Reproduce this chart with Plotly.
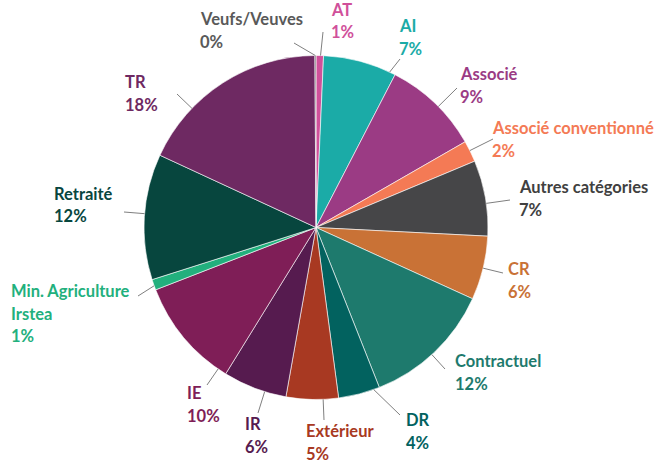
import math
import plotly.graph_objects as go

# slice data, clockwise from 12 o'clock
categories = [
    "AT", "AI", "Associé", "Associé conventionné", "Autres catégories",
    "CR", "Contractuel", "DR", "Extérieur", "IR", "IE",
    "Min. Agriculture<br>Irstea", "Retraité", "TR", "Veufs/Veuves",
]
shares = [0.7, 6.9, 9.1, 2.0, 7.1, 6.0, 12.2, 3.9, 4.9, 6.0, 10.3, 1.0, 11.8, 18.0, 0.1]

slice_colors = [
    "#D0509A", "#1BABA7", "#9B3B84", "#F47A55", "#464648",
    "#C97236", "#1E7A6D", "#02625F", "#A83922", "#561B4F", "#7F1E57",
    "#22B07D", "#07463E", "#6E2962", "#595959",
]
text_colors = [
    "#D0509A", "#1BABA7", "#9B3B84", "#F47A55", "#404040",
    "#C97236", "#1E7A6D", "#02625F", "#A83922", "#561B4F", "#7F1E57",
    "#22B07D", "#07463E", "#6E2962", "#595959",
]

# label placement (pixels): text left, first-line cap top, leader line end
label_pos = [
    (332, 4, 323, 32), (400, 20, 400, 59), (461, 68, 457, 88),
    (493, 122, 493, 139), (520, 181, 510, 200), (509, 263, 503, 273),
    (456, 355, 445, 369), (407, 414, 400, 415), (307, 425, 324, 420),
    (246, 418, 258, 413), (188, 387, 207, 385), (12, 285, 138, 296),
    (55, 188, 124, 212), (126, 76, 177, 94), (201, 13, 294, 43),
]

W, H = 662, 464
CX, CY, R = 316, 227.5, 172
LINE_PITCH = 22.5


def px(x, y):
    return x / W, 1 - y / H


fig = go.Figure(
    go.Pie(
        labels=[c.replace("<br>", " ") for c in categories],
        values=shares,
        sort=False,
        direction="clockwise",
        rotation=0,
        textinfo="none",
        hoverinfo="label+percent",
        marker=dict(colors=slice_colors, line=dict(color="white", width=0.6)),
        domain=dict(x=[(CX - R) / W, (CX + R) / W], y=[1 - (CY + R) / H, 1 - (CY - R) / H]),
        showlegend=False,
    )
)

total = sum(shares)
annotations = []
shapes = []
start = 0.0
for cat, val, col, (tx, ty, lx, ly) in zip(categories, shares, text_colors, label_pos):
    a0 = start / total * 360
    a1 = (start + val) / total * 360
    start += val
    # leader tip: point on the slice edge closest to the line end
    ang = math.degrees(math.atan2(lx - CX, CY - ly)) % 360
    m = min(2.0, (a1 - a0) * 0.4)
    if ang > a1 + 180:
        ang -= 360
    ang = max(a0 + m, min(a1 - m, ang))
    tip_x = CX + R * math.sin(math.radians(ang))
    tip_y = CY - R * math.cos(math.radians(ang))
    x0, y0 = px(tip_x, tip_y)
    x1, y1 = px(lx, ly)
    shapes.append(dict(type="line", xref="paper", yref="paper", x0=x0, y0=y0, x1=x1, y1=y1,
                       line=dict(color="#7F7F7F", width=1)))

    pct = "%d%%" % int(val / total * 100 + 0.5)
    lines = cat.split("<br>") + [pct]
    for i, txt in enumerate(lines):
        ax, ay = px(tx - 2, ty + 6 + i * LINE_PITCH)
        annotations.append(dict(
            x=ax, y=ay, xref="paper", yref="paper", xanchor="left", yanchor="middle",
            text="<b>%s</b>" % txt, showarrow=False, borderpad=0,
            font=dict(family="Lato", size=16.5, color=col),
        ))

fig.update_layout(
    width=W, height=H, autosize=False,
    margin=dict(l=0, r=0, t=0, b=0),
    paper_bgcolor="white", plot_bgcolor="white",
    annotations=annotations, shapes=shapes,
)

# page body has a default 8px margin; drop it so the figure fills the window
fig.write_html(
    "out.html",
    config={"displayModeBar": False},
    post_script="document.body.style.margin='0';",
)
